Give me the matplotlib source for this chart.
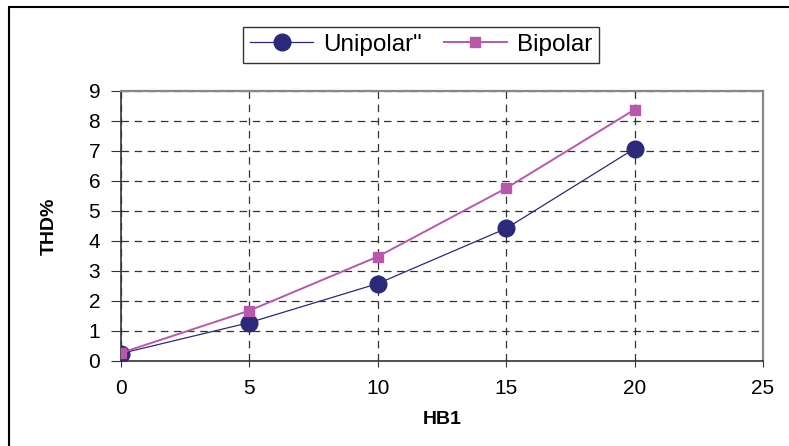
import matplotlib
matplotlib.use("Agg")
import matplotlib.pyplot as plt
from matplotlib.patches import Rectangle

plt.rcParams['font.family'] = ['Liberation Sans', 'DejaVu Sans']

# data
hb1 = [0, 5, 10, 15, 20]
unipolar = [0.25, 1.28, 2.58, 4.42, 7.08]
bipolar = [0.27, 1.68, 3.48, 5.76, 8.38]

x_ticks = [0, 5, 10, 15, 20, 25]
y_ticks = [0, 1, 2, 3, 4, 5, 6, 7, 8, 9]

uni_color = '#2B2A78'
bi_color = '#B957AA'

fig = plt.figure(figsize=(7.89, 4.46), dpi=100)

# outer chart border (only top and left visible in the crop)
fig.patches.append(Rectangle((9 / 789, -0.05), 1.2, 1 - 7 / 446 + 0.05,
                             transform=fig.transFigure, fill=False,
                             edgecolor='black', linewidth=1.5))

ax = fig.add_axes([121 / 789, 85 / 446, 642 / 789, 270 / 446])

ax.plot(hb1, unipolar, color=uni_color, linewidth=0.9, marker='o',
        markersize=12, markerfacecolor=uni_color, markeredgecolor=uni_color,
        label='Unipolar"', zorder=3)
ax.plot(hb1, bipolar, color=bi_color, linewidth=1.4, marker='s',
        markersize=7.5, markerfacecolor=bi_color, markeredgecolor=bi_color,
        label='Bipolar', zorder=4)

ax.set_xlim(0, 25)
ax.set_ylim(0, 9)
ax.set_xticks(x_ticks)
ax.set_yticks(y_ticks)
ax.tick_params(axis='both', labelsize=15, colors='black')
ax.tick_params(axis='x', length=4, pad=9, color='#333333')
ax.tick_params(axis='y', length=7, pad=8, color='#333333')

ax.grid(True, color='#333333', linestyle=(0, (6, 4.5)), linewidth=0.9)
ax.set_axisbelow(True)

for side in ['left', 'bottom']:
    ax.spines[side].set_color('#333333')
    ax.spines[side].set_linewidth(1.2)
for side in ['top', 'right']:
    ax.spines[side].set_color('#888888')
    ax.spines[side].set_linewidth(1.6)

ax.set_xlabel('HB1', fontsize=14, fontweight='bold', labelpad=9)
ax.set_ylabel('THD%', fontsize=14, fontweight='bold', labelpad=22)

leg = fig.legend(loc='center', bbox_to_anchor=(421 / 789, 1 - 45 / 446),
                 ncol=2, fontsize=17.5, frameon=True, fancybox=False,
                 handlelength=2.6, columnspacing=0.9, handletextpad=0.4,
                 borderpad=0.3)
leg.get_frame().set_edgecolor('black')
leg.get_frame().set_linewidth(1.0)

fig.savefig('out.png', dpi=100)
